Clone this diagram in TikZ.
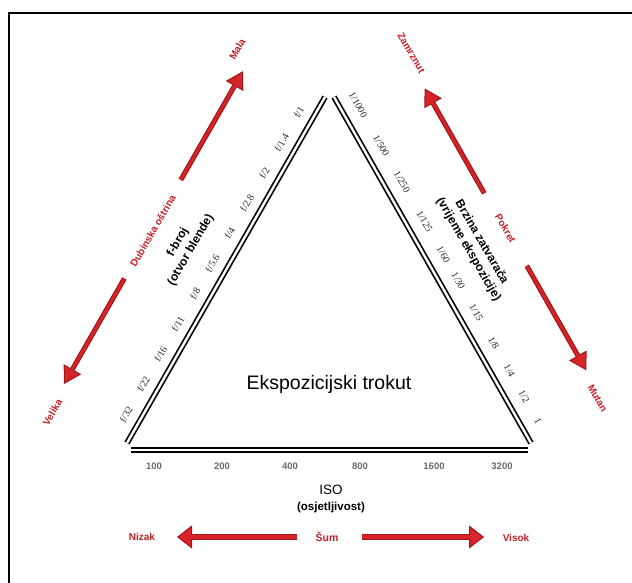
\documentclass[tikz,border=0pt]{standalone}
\usepackage{fontspec}
\setmainfont{Liberation Sans}
\newfontfamily\stopfont{Liberation Serif}
\usetikzlibrary{arrows.meta, calc, positioning}

\definecolor{labelRed}{RGB}{196,32,38}
\definecolor{arrowRed}{RGB}{214,36,40}
\definecolor{arrowDark}{RGB}{160,22,26}
\definecolor{isoGray}{RGB}{105,105,105}

\begin{document}
\begin{tikzpicture}[
        x=1pt, y=-1pt,
        % Styles
        side/.style={draw=black, line width=1.7pt, double=white, double distance=2.4pt},
        frame_line/.style={draw=black, line width=2.5pt},
        stop_lbl/.style={font=\stopfont\fontsize{10}{12}\selectfont, text=black!85, inner sep=0pt},
        iso_lbl/.style={font=\fontsize{9.5}{11}\selectfont\bfseries, text=isoGray, inner sep=0pt},
        head_lbl/.style={font=\fontsize{12}{15}\selectfont\bfseries, align=center, inner sep=0pt},
        red_lbl/.style={font=\fontsize{10}{12}\selectfont\bfseries, text=labelRed, inner sep=0pt},
        red_arrow/.style={draw=arrowDark, line width=5pt,
            -{Triangle[length=17pt, width=20pt, line width=1pt, fill=arrowRed]},
            postaction={draw=arrowRed, line width=2.6pt, -, shorten >=16pt}},
        big_arrow/.style={draw=arrowDark, line width=6pt,
            -{Triangle[length=15pt, width=23pt, line width=1pt, fill=arrowRed]},
            postaction={draw=arrowRed, line width=3.4pt, -, shorten >=14pt}}
    ]

    \useasboundingbox (0,0) rectangle (632,583);

    % Frame (top and left edge only)
    \coordinate (fr_tl) at (9,13);
    \draw[frame_line] (632,13) -- (fr_tl) -- (9,583);

    % Triangle corners
    \coordinate (lb) at (127,443);
    \coordinate (lt) at (325,97);
    \coordinate (rt) at (334,97);
    \coordinate (rb) at (531,443);
    \coordinate (bl) at (131,450);
    \coordinate (br) at (528,450);

    \draw[side] (lb) -- (lt);
    \draw[side] (rt) -- (rb);
    \draw[side] (bl) -- (br);

    \node[font=\fontsize{19.5}{22}\selectfont] (title) at (329,384) {Ekspozicijski trokut};

    % Aperture side (left)
    \foreach \fstop [count=\i from 0] in {f/32, f/22, f/16, f/11, f/8, f/5.6, f/4, f/2.8, f/2, f/1.4, f/1}
        \node[stop_lbl, rotate=60] (f\i) at ($(lb)!{0.061+0.0873*\i}!(lt)!15pt!90:(lt)$) {\fstop};

    \node[head_lbl, rotate=60] (aperture) at ($(lb)!0.5!(lt)!48pt!90:(lt)$) {f-broj\\(otvor blende)};

    \node[red_lbl, rotate=60] (depth) at ($(lb)!0.494!(lt)!83pt!90:(lt)$) {Dubinska oštrina};
    \node[red_lbl, rotate=60] (mala) at ($(lb)!0.995!(lt)!100pt!90:(lt)$) {Mala};
    \node[red_lbl, rotate=60] (velika) at ($(lb)!-0.026!(lt)!80pt!90:(lt)$) {Velika};

    \coordinate (dof_up_a) at ($(lb)!0.64!(lt)!84pt!90:(lt)$);
    \coordinate (dof_up_b) at ($(lb)!0.954!(lt)!84pt!90:(lt)$);
    \coordinate (dof_dn_a) at ($(lb)!0.355!(lt)!84pt!90:(lt)$);
    \coordinate (dof_dn_b) at ($(lb)!0.05!(lt)!84pt!90:(lt)$);
    \draw[red_arrow] (dof_up_a) -- (dof_up_b);
    \draw[red_arrow] (dof_dn_a) -- (dof_dn_b);

    % Shutter side (right)
    \foreach \t/\sp [count=\i] in {0.047/{1/1000}, 0.165/{1/500}, 0.27/{1/250}, 0.384/{1/125}, 0.48/{1/60}, 0.556/{1/30}, 0.647/{1/15}, 0.735/{1/8}, 0.815/{1/4}, 0.89/{1/2}, 0.961/{1}}
        \node[stop_lbl, rotate=-60] (s\i) at ($(rt)!\t!(rb)!17pt!90:(rb)$) {\sp};

    \node[head_lbl, rotate=-60] (shutter) at ($(rt)!0.5!(rb)!49pt!90:(rb)$) {Brzina zatvarača\\(vrijeme ekspozicije)};

    \node[red_lbl, rotate=-60] (motion) at ($(rt)!0.5!(rb)!84pt!90:(rb)$) {Pokret};
    \node[red_lbl, rotate=-60] (frozen) at ($(rt)!0.0!(rb)!89pt!90:(rb)$) {Zamrznut};
    \node[red_lbl, rotate=-60] (blurred) at ($(rt)!0.985!(rb)!80pt!90:(rb)$) {Mutan};

    \coordinate (mot_up_a) at ($(rt)!0.397!(rb)!83pt!90:(rb)$);
    \coordinate (mot_up_b) at ($(rt)!0.094!(rb)!83pt!90:(rb)$);
    \coordinate (mot_dn_a) at ($(rt)!0.608!(rb)!84pt!90:(rb)$);
    \coordinate (mot_dn_b) at ($(rt)!0.91!(rb)!84pt!90:(rb)$);
    \draw[red_arrow] (mot_up_a) -- (mot_up_b);
    \draw[red_arrow] (mot_dn_a) -- (mot_dn_b);

    % ISO side (bottom)
    \foreach \x/\iso in {154/100, 222/200, 290/400, 360/800, 434/1600, 502/3200}
        \node[iso_lbl] (iso\iso) at (\x,466) {\iso};

    \node[font=\fontsize{13.5}{15}\selectfont] (iso) at (331,490) {ISO};
    \node[font=\fontsize{11.5}{13}\selectfont\bfseries, below=0pt of iso] (sens) {(osjetljivost)};

    \node[red_lbl] (low) at (142,537) {Nizak};
    \node[red_lbl, font=\fontsize{10.5}{12}\selectfont\bfseries] (noise) at (327,537) {Šum};
    \node[red_lbl] (high) at (516,538) {Visok};

    \coordinate (noise_l_a) at (297,537);
    \coordinate (noise_l_b) at (177,537);
    \coordinate (noise_r_a) at (362,537);
    \coordinate (noise_r_b) at (484,537);
    \draw[big_arrow] (noise_l_a) -- (noise_l_b);
    \draw[big_arrow] (noise_r_a) -- (noise_r_b);

\end{tikzpicture}
\end{document}
